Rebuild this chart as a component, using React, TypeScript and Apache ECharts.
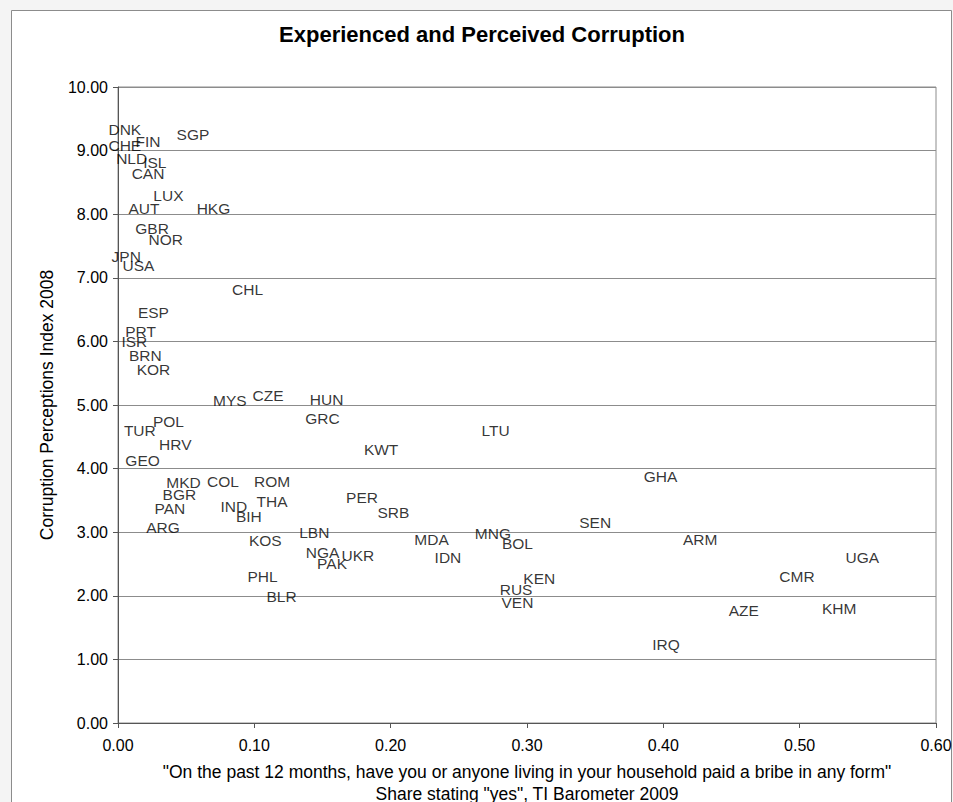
import React, { useEffect, useRef } from "react";
import * as echarts from "echarts";

// Country codes with bribery share (TI Barometer 2009) and CPI 2008 score
const countries = [
  "DNK", "FIN", "SGP", "CHE", "NLD", "ISL", "CAN", "LUX", "AUT", "HKG",
  "GBR", "NOR", "JPN", "USA", "CHL", "ESP", "PRT", "ISR", "BRN", "KOR",
  "MYS", "CZE", "HUN", "GRC", "POL", "TUR", "HRV", "KWT", "GEO", "LTU",
  "MKD", "COL", "ROM", "BGR", "THA", "PER", "PAN", "IND", "BIH", "SRB",
  "ARG", "LBN", "KOS", "NGA", "UKR", "PAK", "PHL", "BLR", "GHA", "SEN",
  "MDA", "MNG", "BOL", "ARM", "IDN", "KEN", "RUS", "VEN", "IRQ", "UGA",
  "CMR", "AZE", "KHM",
];

const bribeShare = [
  0.005, 0.022, 0.055, 0.005, 0.010, 0.027, 0.022, 0.037, 0.019, 0.070,
  0.025, 0.035, 0.006, 0.015, 0.095, 0.026, 0.0165, 0.012, 0.020, 0.026,
  0.082, 0.110, 0.153, 0.150, 0.037, 0.016, 0.042, 0.193, 0.018, 0.277,
  0.048, 0.077, 0.113, 0.045, 0.113, 0.179, 0.038, 0.085, 0.096, 0.202,
  0.033, 0.144, 0.108, 0.150, 0.176, 0.157, 0.106, 0.120, 0.398, 0.350,
  0.230, 0.275, 0.293, 0.427, 0.242, 0.309, 0.292, 0.293, 0.402, 0.546,
  0.498, 0.459, 0.529,
];

const cpiScore = [
  9.33, 9.15, 9.25, 9.08, 8.87, 8.82, 8.64, 8.29, 8.09, 8.09,
  7.77, 7.60, 7.33, 7.19, 6.81, 6.45, 6.15, 6.00, 5.78, 5.56,
  5.07, 5.15, 5.09, 4.78, 4.74, 4.60, 4.38, 4.30, 4.13, 4.60,
  3.78, 3.79, 3.79, 3.60, 3.49, 3.54, 3.38, 3.41, 3.24, 3.31,
  3.08, 2.99, 2.87, 2.68, 2.64, 2.51, 2.30, 1.99, 3.87, 3.15,
  2.89, 2.98, 2.83, 2.89, 2.60, 2.27, 2.10, 1.89, 1.24, 2.60,
  2.30, 1.77, 1.80,
];

const titleText = "Experienced and Perceived Corruption";
const xAxisTitle =
  '"On the past 12 months, have you or anyone living in your household paid a bribe in any form"\nShare stating "yes", TI Barometer 2009';
const yAxisTitle = "Corruption Perceptions Index 2008";

const FONT = '"Liberation Sans", Arial, Helvetica, sans-serif';

export default function App() {
  const ref = useRef<HTMLDivElement>(null);

  useEffect(() => {
    if (!ref.current) return;
    const chart = echarts.init(ref.current, undefined, { renderer: "svg" });

    const points = countries.map((name, i) => ({
      name,
      value: [bribeShare[i], cpiScore[i]],
    }));

    chart.setOption({
      animation: false,
      backgroundColor: "#f4f4f4",
      textStyle: { fontFamily: FONT },
      graphic: [
        {
          type: "rect",
          z: -10,
          silent: true,
          shape: { x: 11.5, y: 10.5, width: 940, height: 820 },
          style: { fill: "#ffffff", stroke: "#8c8c8c", lineWidth: 1 },
        },
        {
          type: "text",
          x: 482,
          y: 34,
          z: 10,
          silent: true,
          style: {
            text: titleText,
            font: `bold 22px ${FONT}`,
            fill: "#000000",
            align: "center",
            verticalAlign: "middle",
            textAlign: "center",
            textVerticalAlign: "middle",
          },
        },
      ],
      grid: {
        left: 118,
        right: 17,
        top: 87,
        bottom: 79,
        show: true,
        borderColor: "#8c8c8c",
        borderWidth: 1,
        backgroundColor: "transparent",
        containLabel: false,
        outerBoundsMode: "none",
      },
      xAxis: {
        type: "value",
        min: 0,
        max: 0.6,
        interval: 0.1,
        name: xAxisTitle,
        nameLocation: "middle",
        nameGap: 38,
        nameTextStyle: {
          fontSize: 17.5,
          lineHeight: 22,
          color: "#000",
          fontFamily: FONT,
        },
        axisLine: { show: true, lineStyle: { color: "#555555", width: 1 } },
        axisTick: { show: true, length: 5, lineStyle: { color: "#555555" } },
        axisLabel: {
          fontSize: 16,
          color: "#000",
          margin: 14,
          fontFamily: FONT,
          formatter: (v: number) => v.toFixed(2),
        },
        splitLine: { show: false },
      },
      yAxis: {
        type: "value",
        min: 0,
        max: 10,
        interval: 1,
        name: yAxisTitle,
        nameLocation: "middle",
        nameGap: 62,
        nameTextStyle: { fontSize: 17.5, color: "#000", fontFamily: FONT },
        axisLine: { show: true, lineStyle: { color: "#555555", width: 1 } },
        axisTick: { show: true, length: 5, lineStyle: { color: "#555555" } },
        axisLabel: {
          fontSize: 16,
          color: "#000",
          margin: 10,
          fontFamily: FONT,
          formatter: (v: number) => v.toFixed(2),
        },
        splitLine: { show: true, lineStyle: { color: "#8c8c8c", width: 1 } },
      },
      series: [
        {
          type: "scatter",
          data: points,
          symbolSize: 1,
          itemStyle: { color: "rgba(0,0,0,0)" },
          label: {
            show: true,
            position: "inside",
            formatter: (p: any) => p.name,
            fontSize: 15.5,
            color: "#000",
            fontFamily: FONT,
          },
          labelLayout: { hideOverlap: false },
          emphasis: { disabled: true },
        },
      ],
    });

    return () => chart.dispose();
  }, []);

  return (
    <div
      ref={ref}
      style={{ position: "absolute", left: 0, top: 0, width: 953, height: 802 }}
    />
  );
}
